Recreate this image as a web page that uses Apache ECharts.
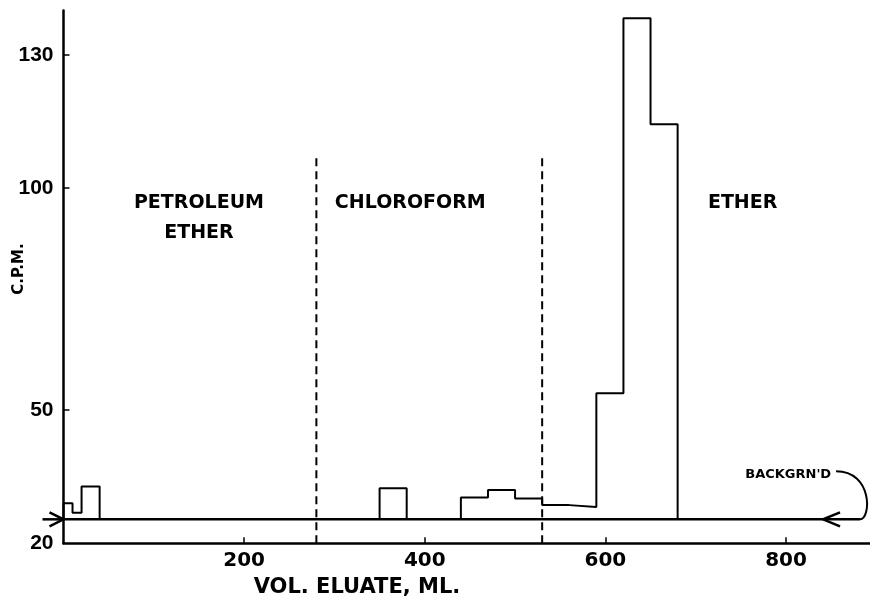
<!DOCTYPE html>
<html><head><meta charset="utf-8">
<script src="https://cdn.jsdelivr.net/npm/echarts@6/dist/echarts.min.js"></script>
<style>html,body{margin:0;padding:0;background:#fff}#c{width:870px;height:597px}</style>
</head><body><div id="c"></div>
<script>
// ---- data ----
const binStart = [0, 10, 20, 350, 440, 470, 500, 530, 560, 590, 620, 650];
const binEnd   = [10, 20, 40, 380, 470, 500, 530, 560, 590, 620, 650, 680];
const cpm      = [29.0, 26.9, 32.8, 32.4, 30.3, 32.0, 30.1, 28.6, 28.2, 53.8, 138.3, 114.4];
const background = 25.4;
const backgroundEnd = 882;
const backgroundArrowX = 841;
const dividers = [280, 530];
const dividerTop = 107;
const xTicks = [200, 400, 600, 800];
const yLabels = [20, 50, 100, 130];
const yTicks = [50, 100, 130];
const regionNames = ['PETROLEUM\nETHER', 'CHLOROFORM', 'ETHER'];
const regionX = [150, 384, 752];
const regionY = [93.3, 96.7, 96.7];
const bgLabel = "BACKGRN'D";
const bgLabelPos = [850, 35.4];

// ---- build step outlines from bins ----
function buildGroups() {
  const groups = [];
  let cur = null;
  for (let i = 0; i < binStart.length; i++) {
    if (!cur || binStart[i] !== binEnd[i - 1]) {
      if (cur) { cur.push([binEnd[i - 1], background]); groups.push(cur); }
      cur = [[binStart[i], background]];
    }
    cur.push([binStart[i], cpm[i]], [binEnd[i], cpm[i]]);
  }
  cur.push([binEnd[binEnd.length - 1], background]);
  groups.push(cur);
  return groups;
}

const FONT = 'DejaVu Sans';
const series = [];
buildGroups().forEach(g => series.push({
  type: 'line', data: g, symbol: 'none', silent: true,
  lineStyle: { color: '#000', width: 2 }
}));
series.push({
  type: 'line', data: [[0, background], [backgroundEnd, background]], symbol: 'none',
  lineStyle: { color: '#000', width: 2.5 }
});
dividers.forEach(d => series.push({
  type: 'line', data: [[d, 20], [d, dividerTop]], symbol: 'none',
  lineStyle: { color: '#000', width: 2, type: [8, 5] }
}));
// arrows + hook curve
series.push({
  type: 'custom', clip: false, silent: true,
  data: [[0, background, 0], [backgroundArrowX, background, 1], [backgroundEnd, background, 2]],
  renderItem: function (params, api) {
    const p = api.coord([api.value(0), api.value(1)]);
    const kind = api.value(2);
    const st = { stroke: '#000', lineWidth: 2.5, fill: null };
    if (kind === 0) {
      return { type: 'group', children: [
        { type: 'line', shape: { x1: p[0] - 21, y1: p[1], x2: p[0], y2: p[1] }, style: st },
        { type: 'polyline', shape: { points: [[p[0] - 14, p[1] - 7], [p[0], p[1]], [p[0] - 14, p[1] + 7]] }, style: st }
      ]};
    } else if (kind === 1) {
      return { type: 'polyline', shape: { points: [[p[0] + 17, p[1] - 7], [p[0], p[1]], [p[0] + 17, p[1] + 7]] }, style: st };
    } else {
      return { type: 'bezierCurve', shape: {
        x1: p[0], y1: p[1], cpx1: p[0] + 11, cpy1: p[1], cpx2: p[0] + 13, cpy2: p[1] - 48,
        x2: p[0] - 24, y2: p[1] - 48 }, style: { stroke: '#000', lineWidth: 2, fill: null } };
    }
  }
});
// region labels
series.push({
  type: 'custom', clip: false, silent: true,
  data: regionNames.map((n, i) => [regionX[i], regionY[i], i]),
  renderItem: function (params, api) {
    const p = api.coord([api.value(0), api.value(1)]);
    return { type: 'text', x: p[0], y: p[1], style: {
      text: regionNames[api.value(2)], fill: '#000', font: 'bold 19px "DejaVu Sans"',
      align: 'center', verticalAlign: 'middle', lineHeight: 30 } };
  }
});
series.push({
  type: 'custom', clip: false, silent: true,
  data: [bgLabelPos],
  renderItem: function (params, api) {
    const p = api.coord([api.value(0), api.value(1)]);
    return { type: 'text', x: p[0], y: p[1], style: {
      text: bgLabel, fill: '#000', font: 'bold 13px "DejaVu Sans"', align: 'right', verticalAlign: 'middle' } };
  }
});

const chart = echarts.init(document.getElementById('c'), null, { renderer: 'canvas' });
chart.setOption({
  animation: false,
  backgroundColor: '#fff',
  grid: { left: 63.5, right: 0, top: 10.6, bottom: 53.7, containLabel: false, outerBoundsMode: 'none' },
  xAxis: {
    type: 'value', min: 0, max: 893,
    axisLine: { onZero: false, lineStyle: { color: '#000', width: 2.5 } },
    axisTick: { customValues: xTicks, inside: true, length: 6, lineStyle: { color: '#000', width: 1.5 } },
    axisLabel: { customValues: xTicks, color: '#000', fontSize: 20, fontWeight: 'bold', fontFamily: FONT, margin: 7 },
    splitLine: { show: false }
  },
  yAxis: {
    type: 'value', min: 20, max: 140,
    axisLine: { show: true, onZero: false, lineStyle: { color: '#000', width: 2.5 } },
    axisTick: { customValues: yTicks, inside: true, length: 6, lineStyle: { color: '#000', width: 1.5 } },
    axisLabel: { customValues: yLabels, color: '#000', fontSize: 21, fontWeight: 'bold', fontFamily: 'Liberation Sans', margin: 10 },
    splitLine: { show: false }
  },
  graphic: [
    { type: 'text', x: 19, y: 269, rotation: Math.PI / 2, style: {
      text: 'C.P.M.', fill: '#000', font: 'bold 15px "DejaVu Sans"', align: 'center', verticalAlign: 'middle' } },
    { type: 'text', x: 357, y: 588, style: {
      text: 'VOL. ELUATE, ML.', fill: '#000', font: 'bold 21px "DejaVu Sans"', align: 'center', verticalAlign: 'middle' } }
  ],
  series: series
});
</script></body></html>
